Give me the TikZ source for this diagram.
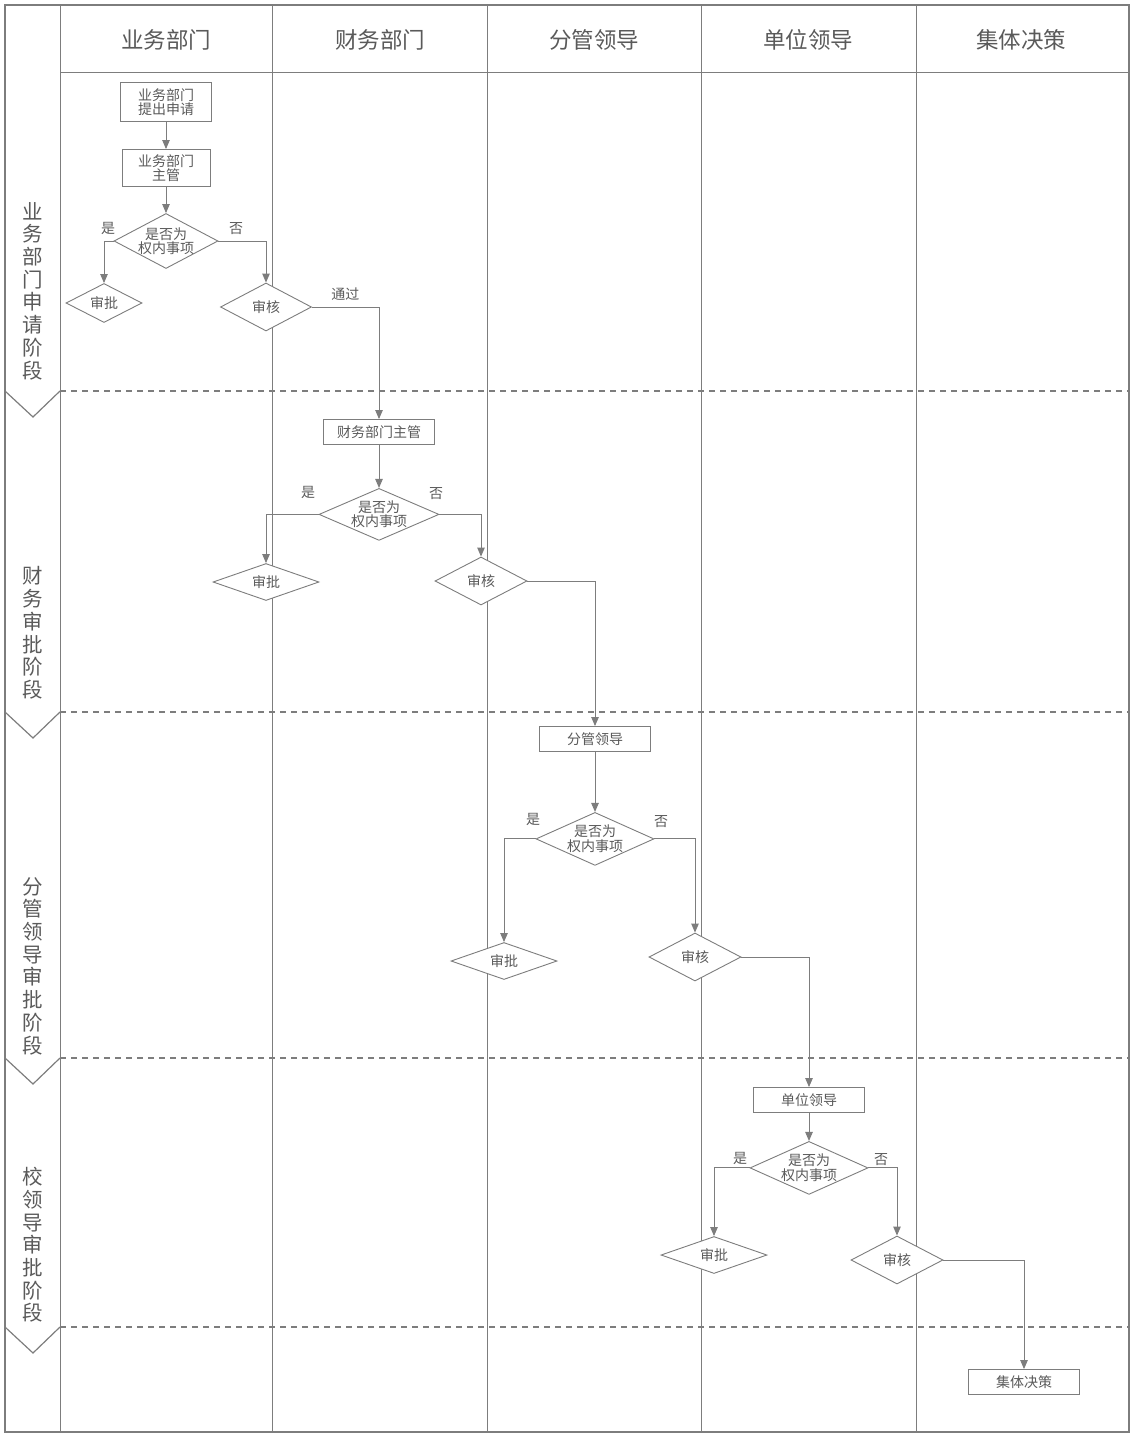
\documentclass[tikz,border=0pt]{standalone}
\usepackage{fontspec}
\setmainfont{Noto Sans CJK SC}
\usetikzlibrary{shapes,arrows.meta,positioning,calc}
\definecolor{linegray}{RGB}{125,125,125}
\definecolor{textgray}{RGB}{90,90,90}

\begin{document}
\begin{tikzpicture}[
    x=1pt, y=-1pt,
    box/.style={rectangle, draw=linegray, fill=white, line width=0.9pt,
                minimum width=111pt, minimum height=25pt, inner sep=1pt, align=center,
                text=textgray, font=\fontsize{14}{14.5}\selectfont},
    decide/.style={diamond, draw=linegray, fill=white, line width=0.9pt, aspect=1.9,
                inner sep=-5pt, minimum width=118pt, minimum height=53pt, align=center,
                text=textgray, font=\fontsize{14}{14.5}\selectfont},
    approve/.style={diamond, draw=linegray, fill=white, line width=0.9pt, aspect=2.8,
                inner sep=0pt, minimum width=106pt, minimum height=37pt,
                text=textgray, font=\fontsize{14}{14.5}\selectfont},
    review/.style={diamond, draw=linegray, fill=white, line width=0.9pt, aspect=1.9,
                inner sep=0pt, minimum width=92pt, minimum height=48pt,
                text=textgray, font=\fontsize{14}{14.5}\selectfont},
    tag/.style={inner sep=0pt, text=textgray, font=\fontsize{14}{14.5}\selectfont},
    head/.style={text=textgray, font=\fontsize{22.5}{23}\selectfont},
    stage/.style={align=center, text=textgray, font=\fontsize{20.5}{22.7}\selectfont},
    arrow/.style={-{Triangle[length=9pt,width=7.5pt]}, draw=linegray, line width=0.9pt},
    lane/.style={draw=linegray, line width=0.8pt},
    phase/.style={draw=linegray, line width=1.7pt, dash pattern=on 6pt off 5pt}
]
    \useasboundingbox (0,0) rectangle (1136,1434);

    % frame, lanes and phases
    \draw[lane, line width=1.2pt] (5,5) rectangle (1129,1432);
    \draw[lane] (60,5) -- (60,1432);
    \draw[lane] (60,72) -- (1129,72);
    \foreach \x in {272,487,701,916}
        \draw[lane] (\x,5) -- (\x,1432);
    \foreach \y in {391,712,1058,1327} {
        \draw[phase] (60,\y) -- (1129,\y);
        \draw[lane, line width=1.2pt] (5,\y) -- (33,\y+26) -- (60,\y);
    }

    \node[head] (hbiz) at (166,40) {业务部门};
    \node[head] (hfin) at (380,40) {财务部门};
    \node[head] (hlead) at (594,40) {分管领导};
    \node[head] (hunit) at (808,40) {单位领导};
    \node[head] (hboard) at (1021,40) {集体决策};

    \node[stage] (s1) at (33,291) {业\\务\\部\\门\\申\\请\\阶\\段};
    \node[stage] (s2) at (33,633) {财\\务\\审\\批\\阶\\段};
    \node[stage] (s3) at (33,966) {分\\管\\领\\导\\审\\批\\阶\\段};
    \node[stage] (s4) at (33,1245) {校\\领\\导\\审\\批\\阶\\段};

    % stage 1
    \node[box, minimum width=91pt, minimum height=39pt] (apply) at (166,102) {业务部门\\提出申请};
    \node[box, minimum width=88pt, minimum height=37pt] (bizhead) at (166,168) {业务部门\\主管};
    \node[decide, minimum width=104pt, minimum height=55pt] (q1) at (166,241) {是否为\\权内事项};
    \node[approve, minimum width=76pt, minimum height=39pt] (ok1) at (104,303) {审批};
    \node[review, minimum width=91pt] (chk1) at (266,307) {审核};
    \node[tag] (yes1) at (108,228) {是};
    \node[tag] (no1) at (236,229) {否};

    \draw[arrow] (apply) -- (bizhead);
    \draw[arrow] (bizhead) -- (q1);
    \draw[arrow] (q1.west) -| (ok1.north);
    \draw[arrow] (q1.east) -| (chk1.north);

    % stage 2
    \node[box] (finhead) at (379,432) {财务部门主管};
    \node[decide, minimum width=120pt, minimum height=52pt, below=43pt of finhead] (q2) {是否为\\权内事项};
    \node[approve] (ok2) at (266,582) {审批};
    \node[review] (chk2) at (481,581) {审核};
    \node[tag] (yes2) at (308,492) {是};
    \node[tag] (no2) at (436,494) {否};

    \draw[arrow] (chk1.east) -| node[tag, pos=0.25, above=6pt] (pass) {通过} (finhead.north);
    \draw[arrow] (finhead) -- (q2);
    \draw[arrow] (q2.west) -| (ok2.north);
    \draw[arrow] (q2.east) -| (chk2.north);

    % stage 3
    \node[box] (leader) at (595,739) {分管领导};
    \node[decide, below=60pt of leader] (q3) {是否为\\权内事项};
    \node[approve] (ok3) at (504,961) {审批};
    \node[review] (chk3) at (695,957) {审核};
    \node[tag] (yes3) at (533,819) {是};
    \node[tag] (no3) at (661,822) {否};

    \draw[arrow] (chk2.east) -| (leader.north);
    \draw[arrow] (leader) -- (q3);
    \draw[arrow] (q3.west) -| (ok3.north);
    \draw[arrow] (q3.east) -| (chk3.north);

    % stage 4
    \node[box] (unit) at (809,1100) {单位领导};
    \node[decide, below=28pt of unit] (q4) {是否为\\权内事项};
    \node[approve] (ok4) at (714,1255) {审批};
    \node[review] (chk4) at (897,1260) {审核};
    \node[tag] (yes4) at (740,1158) {是};
    \node[tag] (no4) at (881,1160) {否};
    \node[box] (board) at (1024,1382) {集体决策};

    \draw[arrow] (chk3.east) -| (unit.north);
    \draw[arrow] (unit) -- (q4);
    \draw[arrow] (q4.west) -| (ok4.north);
    \draw[arrow] (q4.east) -| (chk4.north);
    \draw[arrow] (chk4.east) -| (board.north);
\end{tikzpicture}
\end{document}
